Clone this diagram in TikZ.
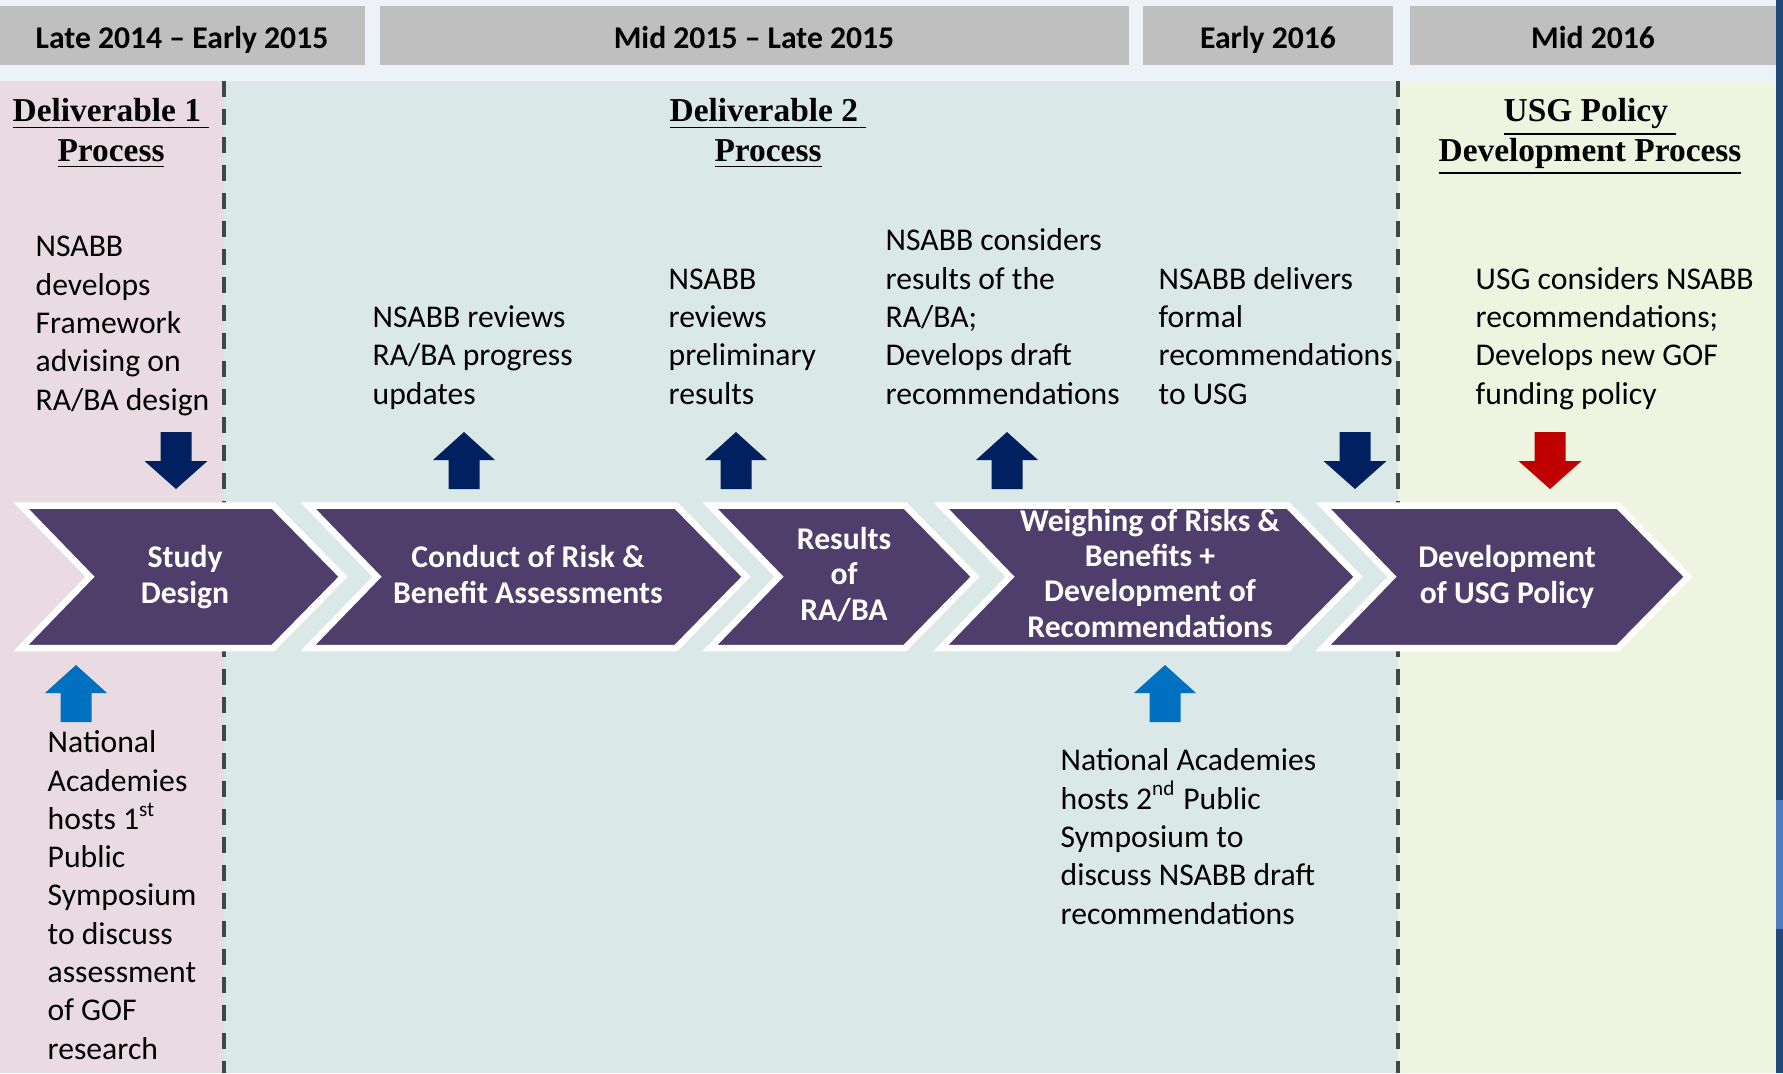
\documentclass[tikz,border=0pt]{standalone}
\usepackage{fontspec}
\setmainfont{Carlito}
\newfontfamily\headfont{Liberation Serif}
\usepackage{tikz}

\definecolor{topbg}{RGB}{237,242,249}
\definecolor{bargrey}{RGB}{191,191,191}
\definecolor{pinkbg}{RGB}{234,219,226}
\definecolor{tealbg}{RGB}{218,232,232}
\definecolor{greenbg}{RGB}{239,244,225}
\definecolor{chevpurple}{RGB}{79,61,107}
\definecolor{arrownavy}{RGB}{0,32,96}
\definecolor{arrowblue}{RGB}{0,112,192}
\definecolor{arrowred}{RGB}{192,0,0}
\definecolor{divgrey}{RGB}{62,72,68}
\definecolor{edgenavy}{RGB}{31,73,125}
\definecolor{edgeblue}{RGB}{74,126,192}

\begin{document}
\begin{tikzpicture}[x=0.01cm, y=-0.01cm,
   bar/.style={font=\bfseries\fontsize{9}{10}\selectfont, anchor=base, inner sep=0pt},
   head/.style={font=\headfont\bfseries\fontsize{9.5}{11.1}\selectfont, align=center, anchor=base, inner sep=0pt},
   note/.style={font=\fontsize{9}{10.88}\selectfont, align=left, anchor=base west, inner sep=0pt},
   chev/.style={fill=chevpurple, draw=white, line width=0.065cm, line join=miter},
   chevtext/.style={text=white, font=\bfseries\fontsize{9}{9.96}\selectfont, align=center, anchor=base, inner sep=0pt},
   divider/.style={draw=divgrey, line width=0.04cm, dash pattern=on 4.55pt off 3.41pt}]
   \useasboundingbox (0,0) rectangle (1783,1073);
   % backgrounds
   \fill[topbg] (0,0) rectangle (1776,81);
   \fill[pinkbg] (0,81) rectangle (224,1073);
   \fill[tealbg] (224,81) rectangle (1398,1073);
   \fill[greenbg] (1398,81) rectangle (1776,1073);
   \fill[edgenavy] (1776,0) rectangle (1783,1073);
   \fill[edgeblue] (1776,800) rectangle (1783,929);
   % time bar
   \fill[bargrey] (0,6) rectangle (365,65);
   \fill[bargrey] (380,6) rectangle (1129,65);
   \fill[bargrey] (1143,6) rectangle (1393,65);
   \fill[bargrey] (1410,6) rectangle (1776,65);
   \node[bar] (t1) at (182,48.5) {Late 2014 -- Early 2015};
   \node[bar] (t2) at (754,48.5) {Mid 2015 -- Late 2015};
   \node[bar] (t3) at (1268,48.5) {Early 2016};
   \node[bar] (t4) at (1593,48.5) {Mid 2016};
   \draw[divider] (224,81) -- (224,1073);
   \draw[divider] (1398,81) -- (1398,1073);
   % headings (anchored on the last line)
   \node[head] (del1) at (111,161) {\underline{Deliverable 1~}\\\underline{Process}};
   \node[head] (del2) at (768,161) {\underline{Deliverable 2~}\\\underline{Process}};
   \node[head] (usg) at (1590,161) {\underline{USG Policy~}\\\underline{Development Process}};
   % notes above
   \node[note] (framework) at (35,410) {NSABB\\develops\\Framework\\advising on\\RA/BA design};
   \node[note] (updates) at (372,404) {NSABB reviews\\RA/BA progress\\updates};
   \node[note] (prelim) at (668,404) {NSABB\\reviews\\preliminary\\results};
   \node[note] (draft) at (885,404) {NSABB considers\\results of the\\RA/BA;\\Develops draft\\recommendations};
   \node[note] (deliver) at (1158,404) {NSABB delivers\\formal\\recommendations\\to USG};
   \node[note] (gof) at (1475,404) {USG considers NSABB\\recommendations;\\Develops new GOF\\funding policy};
   % block arrows
   \foreach \x/\y/\c in {464/432/arrownavy, 736/432/arrownavy, 1007/432/arrownavy, 76/665/arrowblue, 1165/665/arrowblue}
     \fill[\c] (\x,\y) -- (\x+31,\y+28) -- (\x+15.5,\y+28) -- (\x+15.5,\y+57) -- (\x-15.5,\y+57) -- (\x-15.5,\y+28) -- (\x-31,\y+28) -- cycle;
   \foreach \x/\c in {176/arrownavy, 1355/arrownavy, 1550/arrowred}
     \fill[\c] (\x-15.5,432) -- (\x+15.5,432) -- (\x+15.5,461) -- (\x+31.5,461) -- (\x,489) -- (\x-31.5,461) -- (\x-15.5,461) -- cycle;
   % chevrons
   \foreach \l/\r in {23/272, 310/675, 712/904, 943/1287, 1325/1617}
     \draw[chev] (\l-2,505.5) -- (\r+1,505.5) -- (\r+71,576.75) -- (\r+1,648) -- (\l-2,648) -- (\l+67,576.75) -- cycle;
   \node[chevtext] (study) at (185,603) {Study\\Design};
   \node[chevtext] (conduct) at (528,603) {Conduct of Risk \&\\Benefit Assessments};
   \node[chevtext] (results) at (844,620) {Results\\of\\RA/BA};
   \node[chevtext] (weigh) at (1150,637) {Weighing of Risks \&\\Benefits +\\Development of\\Recommendations};
   \node[chevtext] (policy) at (1507,603) {Development\\of USG Policy};
   % notes below
   \node[note] (symp1) at (47,1059) {National\\Academies\\hosts 1\textsuperscript{st}\\Public\\Symposium\\to discuss\\assessment\\of GOF\\research};
   \node[note] (symp2) at (1060,924) {National Academies\\hosts 2\textsuperscript{nd} Public\\Symposium to\\discuss NSABB draft\\recommendations};
\end{tikzpicture}
\end{document}
